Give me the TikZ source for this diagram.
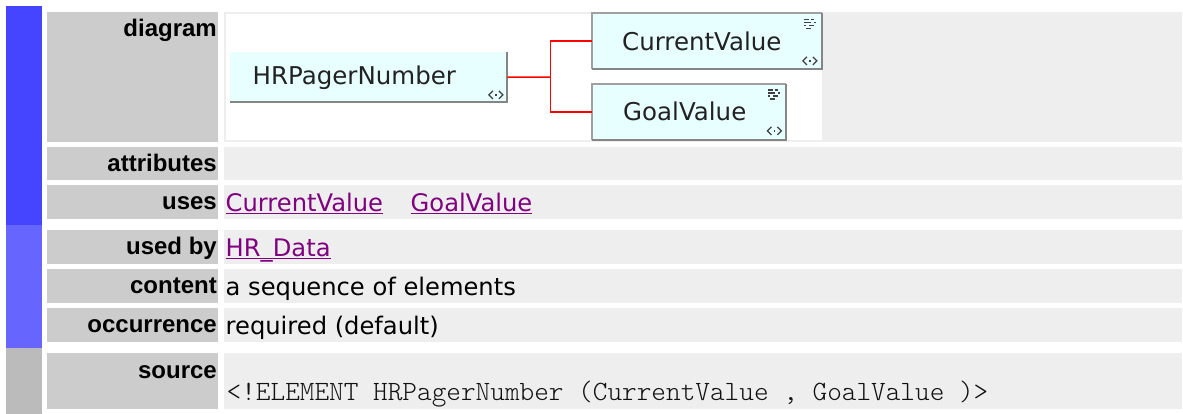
\documentclass[tikz,border=0pt]{standalone}
\usepackage{fontspec}
\setmainfont{DejaVu Sans}
\newfontfamily\labelfont{Liberation Sans}
\newfontfamily\codefont{lmmonolt10-regular.otf}
\usetikzlibrary{calc}
\definecolor{barA}{HTML}{4545FF}
\definecolor{barB}{HTML}{6666FF}
\definecolor{barC}{HTML}{BBBBBB}
\definecolor{lblgray}{HTML}{CCCCCC}
\definecolor{valgray}{HTML}{EEEEEE}
\definecolor{linkpurple}{HTML}{800080}
\definecolor{boxcyan}{HTML}{E8FFFF}
\definecolor{boxtext}{HTML}{222222}
\definecolor{edgedark}{HTML}{858585}
\definecolor{edgelight}{HTML}{A0A0A0}
\definecolor{icongray}{HTML}{404040}
\definecolor{codetext}{HTML}{111111}
\tikzset{
  lbl/.style={anchor=base east, inner sep=0pt, font=\labelfont\bfseries\fontsize{24}{28}\selectfont},
  val/.style={anchor=base west, inner sep=0pt, font=\fontsize{24.2}{29}\selectfont},
  lnk/.style={val, text=linkpurple},
  ul/.style={draw=linkpurple, line width=1.3pt},
  code/.style={anchor=base west, inner sep=0pt, text=codetext, font=\codefont\fontsize{27.9}{32}\selectfont},
  elbox/.style={fill=boxcyan, anchor=north west, inner sep=0pt},
  boxtxt/.style={anchor=base west, inner sep=0pt, text=boxtext, font=\fontsize{24.5}{29}\selectfont},
  darkedge/.style={draw=edgedark, line width=2pt},
  lightedge/.style={draw=edgelight, line width=1.3pt},
  conn/.style={draw=red, line width=1.5pt},
  iconline/.style={draw=icongray, line width=1.2pt},
  anglesicon/.pic={
    \draw[iconline] (-3,-4) -- (-7,0) -- (-3,4);
    \draw[iconline] (3,-4) -- (7,0) -- (3,4);
    \fill[icongray] (-0.9,-0.9) rectangle (0.9,0.9);
  },
  gridicon/.pic={
    \foreach \cx/\cy in {-6/-4.5,-3.5/-4.5,1.5/-4.5,
                         -6/-1.5,-3.5/-1.5,-1/-1.5,4/-1.5,
                         -6/1.5,-1/1.5,1.5/1.5,
                         -3.5/4.5,-1/4.5}
      \fill[icongray] (\cx-1,\cy-0.8) rectangle (\cx+1.1,\cy+0.8);
  }
}
\begin{document}
\begin{tikzpicture}[x=1pt,y=-1pt]
\useasboundingbox (0,0) rectangle (1183,414);
\fill[white] (0,0) rectangle (1183,414);
% side bars
\fill[barA] (6,6) rectangle (42,225);
\fill[barB] (6,225) rectangle (42,348);
\fill[barC] (6,348) rectangle (42,414);
% label cells
\foreach \ya/\yb in {12/142,147.3/180,185/219,230/264,269/303,308/342,353/409}
  \fill[lblgray] (47,\ya) rectangle (218,\yb);
% value cells
\foreach \ya/\yb in {12/142,147.3/180,185/219,230/264,269/303,308/342,353/409}
  \fill[valgray] (224,\ya) rectangle (1182,\yb);
% diagram area
\fill[white] (226,14) rectangle (822,140);

% labels
\node[lbl] (ldiagram) at (217,36.7) {diagram};
\node[lbl] (lattr) at (217,172) {attributes};
\node[lbl] (luses) at (217,209.7) {uses};
\node[lbl] (lusedby) at (217,254.7) {used by};
\node[lbl] (lcontent) at (217,293.7) {content};
\node[lbl] (loccur) at (217,332.7) {occurrence};
\node[lbl] (lsource) at (217,378.3) {source};

% values
\node[lnk] (ucv) at (225.5,211.3) {CurrentValue};
\node[lnk] (ugv) at (410.5,211.3) {GoalValue};
\draw[ul] ([yshift=-2.3pt]ucv.base west) -- ([yshift=-2.3pt]ucv.base east);
\draw[ul] ([yshift=-2.3pt]ugv.base west) -- ([yshift=-2.3pt]ugv.base east);
\node[lnk] (uby) at (225.5,256.3) {HR\_Data};
\draw[ul] ([yshift=-2.3pt]uby.base west) -- ([yshift=-2.3pt]uby.base east);
\node[val] (vcontent) at (225.5,295.3) {a sequence of elements};
\node[val] (voccur) at (225.5,334.3) {required (default)};
\node[code] (vsource) at (226.5,400) {<!ELEMENT HRPagerNumber (CurrentValue , GoalValue )>};

% diagram boxes
\node[elbox, minimum width=277pt, minimum height=50pt] (hr) at (230,52) {};
\draw[darkedge] (hr.north east) -- (hr.south east) -- (hr.south west);
\node[boxtxt] (hrt) at (252.5,85) {HRPagerNumber};
\pic at ($(hr.south east)+(-11.5,-7.5)$) {anglesicon};

\node[elbox, minimum width=230pt, minimum height=56pt] (cv) at (592,13) {};
\draw[lightedge] (cv.south west) -- (cv.north west) -- (cv.north east);
\draw[darkedge] (cv.north east) -- (cv.south east) -- (cv.south west);
\node[boxtxt] (cvt) at (622,51) {CurrentValue};
\pic at ($(cv.south east)+(-12.5,-8.5)$) {anglesicon};
\pic at ($(cv.north east)+(-11.5,11)$) {gridicon};

\node[elbox, minimum width=194pt, minimum height=56pt] (gv) at (592,84) {};
\draw[lightedge] (gv.south west) -- (gv.north west) -- (gv.north east);
\draw[darkedge] (gv.north east) -- (gv.south east) -- (gv.south west);
\node[boxtxt] (gvt) at (623,121) {GoalValue};
\pic at ($(gv.south east)+(-12,-9.5)$) {anglesicon};
\pic at ($(gv.north east)+(-11.5,10.5)$) {gridicon};

% connectors
\coordinate (j) at (550.5,77);
\draw[conn] (hr.east) -- (j);
\draw[conn] (cv.west) -| (j) |- (gv.west);
\end{tikzpicture}
\end{document}
